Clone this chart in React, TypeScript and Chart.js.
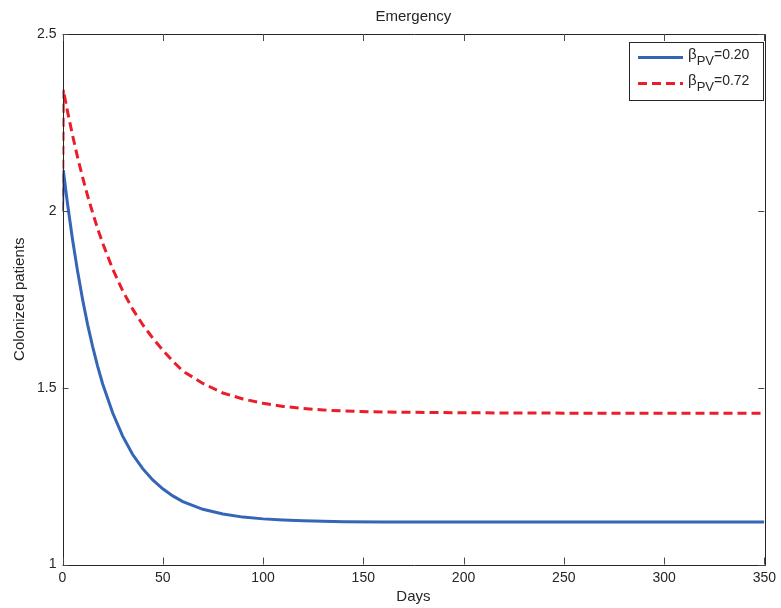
import React, { useEffect, useRef } from "react";
import { Chart, registerables } from "chart.js";

Chart.register(...registerables);

const days = [0, 0.4, 2.5, 5, 7.5, 10, 12.5, 15, 17.5, 20, 25, 30, 35, 40, 45, 50, 55, 60, 70, 80, 90, 100, 110, 120, 130, 140, 160, 200, 250, 300, 350];
const lowBetaValues = [2.0, 2.115, 2.02, 1.919, 1.83, 1.75, 1.679, 1.617, 1.561, 1.511, 1.429, 1.363, 1.311, 1.271, 1.239, 1.214, 1.194, 1.178, 1.156, 1.143, 1.134, 1.129, 1.126, 1.124, 1.122, 1.121, 1.12, 1.12, 1.12, 1.12, 1.12];
const highBetaValues = [2.0, 2.342, 2.281, 2.214, 2.152, 2.095, 2.043, 1.995, 1.95, 1.909, 1.836, 1.774, 1.722, 1.678, 1.64, 1.606, 1.575, 1.547, 1.512, 1.485, 1.468, 1.456, 1.447, 1.441, 1.437, 1.434, 1.431, 1.429, 1.428, 1.428, 1.428];
const xTickValues = [0, 50, 100, 150, 200, 250, 300, 350];
const yTickValues = [1, 1.5, 2, 2.5];
const seriesValues = ["0.20", "0.72"];

const FONT = "'Liberation Sans', Arial, Helvetica, sans-serif";
const TEXT = "#262626";
const BLUE = "#3465b6";
const RED = "#ec1c2a";

const framePlugin = {
  id: "matlabFrame",
  afterDatasetsDraw(chart: any) {
    const { ctx, chartArea, scales } = chart;
    const { left, right, top, bottom } = chartArea;
    ctx.save();
    ctx.strokeStyle = TEXT;
    ctx.lineWidth = 1;
    ctx.beginPath();
    ctx.rect(Math.round(left) + 0.5, Math.round(top) + 0.5, Math.round(right - left), Math.round(bottom - top));
    ctx.stroke();
    ctx.strokeStyle = "#4a4a4a";
    ctx.beginPath();
    for (const v of xTickValues) {
      const x = Math.round(scales.x.getPixelForValue(v)) + 0.5;
      ctx.moveTo(x, bottom);
      ctx.lineTo(x, bottom - 7);
      ctx.moveTo(x, top);
      ctx.lineTo(x, top + 7);
    }
    for (const v of yTickValues) {
      const y = Math.round(scales.y.getPixelForValue(v)) + 0.5;
      ctx.moveTo(left, y);
      ctx.lineTo(left + 6, y);
      ctx.moveTo(right, y);
      ctx.lineTo(right - 6, y);
    }
    ctx.stroke();
    ctx.restore();
  },
  afterDraw(chart: any) {
    const { ctx } = chart;
    const bx = 629.5, by = 42.5, bw = 134, bh = 58;
    ctx.save();
    ctx.fillStyle = "#ffffff";
    ctx.fillRect(bx, by, bw, bh);
    ctx.strokeStyle = TEXT;
    ctx.lineWidth = 1;
    ctx.strokeRect(bx, by, bw, bh);
    const rows = [
      { color: BLUE, dash: [] as number[], y: 57.5, value: seriesValues[0] },
      { color: RED, dash: [9, 5], y: 83.5, value: seriesValues[1] },
    ];
    for (const r of rows) {
      ctx.strokeStyle = r.color;
      ctx.lineWidth = 3;
      ctx.setLineDash(r.dash);
      ctx.beginPath();
      ctx.moveTo(638, r.y);
      ctx.lineTo(683, r.y);
      ctx.stroke();
      ctx.setLineDash([]);
      ctx.fillStyle = TEXT;
      ctx.textBaseline = "alphabetic";
      ctx.textAlign = "left";
      ctx.font = `15px ${FONT}`;
      const base = r.y + 1.5;
      ctx.fillText("\u03B2", 688, base);
      const bwid = ctx.measureText("\u03B2").width;
      ctx.font = `13px ${FONT}`;
      ctx.fillText("PV", 688 + bwid, base + 6);
      const swid = ctx.measureText("PV").width;
      ctx.font = `14px ${FONT}`;
      ctx.fillText("=" + r.value, 688 + bwid + swid, base);
    }
    ctx.restore();
  },
};

export default function App() {
  const canvasRef = useRef<HTMLCanvasElement | null>(null);

  useEffect(() => {
    if (!canvasRef.current) return;
    const chart = new Chart(canvasRef.current, {
      type: "line",
      data: {
        datasets: [
          {
            label: "\u03B2PV=0.20",
            data: days.map((d, i) => ({ x: d, y: lowBetaValues[i] })),
            borderColor: BLUE,
            borderWidth: 3,
            pointRadius: 0,
            tension: 0,
            fill: false,
          },
          {
            label: "\u03B2PV=0.72",
            data: days.map((d, i) => ({ x: d, y: highBetaValues[i] })),
            borderColor: RED,
            borderWidth: 3,
            borderDash: [9, 5],
            pointRadius: 0,
            tension: 0,
            fill: false,
          },
        ],
      },
      options: {
        responsive: false,
        animation: false,
        layout: { padding: { left: 0, right: 15, top: 0, bottom: 0 } },
        plugins: {
          legend: { display: false },
          tooltip: { enabled: false },
          title: {
            display: true,
            text: "Emergency",
            fullSize: false,
            color: TEXT,
            font: { family: FONT, size: 15, weight: "normal" },
            padding: { top: 7.7, bottom: 8.3 },
          },
        },
        scales: {
          x: {
            type: "linear",
            min: 0,
            max: 350,
            afterBuildTicks: (scale: any) => {
              scale.ticks = xTickValues.map((v) => ({ value: v }));
            },
            ticks: {
              color: TEXT,
              font: { family: FONT, size: 14 },
              padding: 5,
              maxRotation: 0,
              callback: (v: any) => String(v),
            },
            grid: { display: false, drawTicks: false },
            border: { display: false },
            title: {
              display: true,
              text: "Days",
              color: TEXT,
              font: { family: FONT, size: 15 },
              padding: { top: 0, bottom: 2 },
            },
            afterFit: (scale: any) => {
              scale.height = 43.5;
            },
          },
          y: {
            type: "linear",
            min: 1,
            max: 2.5,
            afterBuildTicks: (scale: any) => {
              scale.ticks = yTickValues.map((v) => ({ value: v }));
            },
            ticks: {
              color: TEXT,
              font: { family: FONT, size: 14 },
              padding: 6,
              callback: (v: any) => String(v),
            },
            grid: { display: false, drawTicks: false },
            border: { display: false },
            title: {
              display: true,
              text: "Colonized patients",
              color: TEXT,
              font: { family: FONT, size: 15 },
              padding: { top: 11, bottom: 0 },
            },
            afterFit: (scale: any) => {
              scale.width = 62.5;
            },
          },
        },
      },
      plugins: [framePlugin],
    });
    return () => chart.destroy();
  }, []);

  return (
    <div style={{ position: "fixed", left: 0, top: 0, width: 781, height: 608, background: "#ffffff" }}>
      <canvas ref={canvasRef} width={781} height={608} />
    </div>
  );
}
